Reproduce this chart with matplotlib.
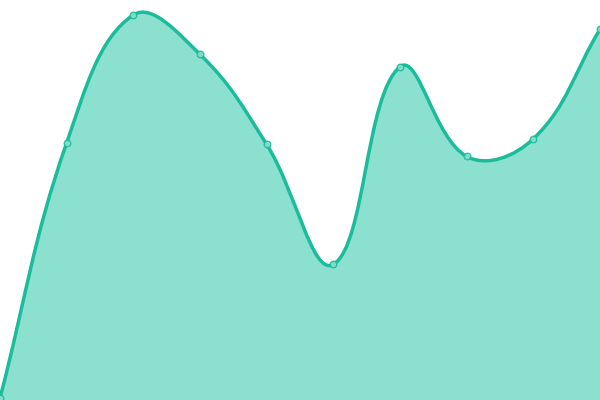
import matplotlib
matplotlib.use("Agg")
import matplotlib.pyplot as plt
import numpy as np
from matplotlib.path import Path
from matplotlib.patches import PathPatch

categories = list(range(10))
values = [0.5, 64.3, 96.25, 86.4, 63.9, 33.9, 83.3, 60.9, 65.3, 92.7]

LINE = "#1abc9c"
FILL = "#8be0cf"
TENSION = 0.4

fig = plt.figure(figsize=(6, 4), dpi=100)
ax = fig.add_axes([0, 0, 1, 1])
ax.set_xlim(categories[0], categories[-1])
ax.set_ylim(0, 100)
ax.axis("off")

pts = ax.transData.transform(np.column_stack([categories, values]))
n = len(pts)
cprev = np.zeros_like(pts)
cnext = np.zeros_like(pts)
for i in range(n):
    p = pts[i]
    a = pts[i - 1] if i > 0 else p
    b = pts[i + 1] if i < n - 1 else p
    d01 = np.hypot(*(p - a))
    d12 = np.hypot(*(b - p))
    tot = d01 + d12
    s01 = d01 / tot if tot else 0
    s12 = d12 / tot if tot else 0
    cprev[i] = p - TENSION * s01 * (b - a)
    cnext[i] = p + TENSION * s12 * (b - a)

# clamp to chart area
bbox = ax.bbox
for arr in (cprev, cnext):
    arr[:, 0] = np.clip(arr[:, 0], bbox.x0, bbox.x1)
    arr[:, 1] = np.clip(arr[:, 1], bbox.y0, bbox.y1)

inv = ax.transData.inverted()
P = inv.transform(pts)
CP = inv.transform(cprev)
CN = inv.transform(cnext)

verts = [tuple(P[0])]
codes = [Path.MOVETO]
for i in range(n - 1):
    verts += [tuple(CN[i]), tuple(CP[i + 1]), tuple(P[i + 1])]
    codes += [Path.CURVE4] * 3

line_path = Path(verts, codes)
fill_verts = verts + [(categories[-1], 0), (categories[0], 0), verts[0]]
fill_codes = codes + [Path.LINETO, Path.LINETO, Path.CLOSEPOLY]
fill_path = Path(fill_verts, fill_codes)

ax.add_patch(PathPatch(fill_path, facecolor=FILL, edgecolor="none", zorder=1))
ax.add_patch(PathPatch(line_path, facecolor="none", edgecolor=LINE, lw=2.5,
                       capstyle="round", joinstyle="round", zorder=2))
ax.scatter(categories, values, s=22, facecolor=FILL, edgecolor=LINE,
           linewidths=1.0, zorder=3, clip_on=False, alpha=0.9)

fig.savefig("out.png", dpi=100)
